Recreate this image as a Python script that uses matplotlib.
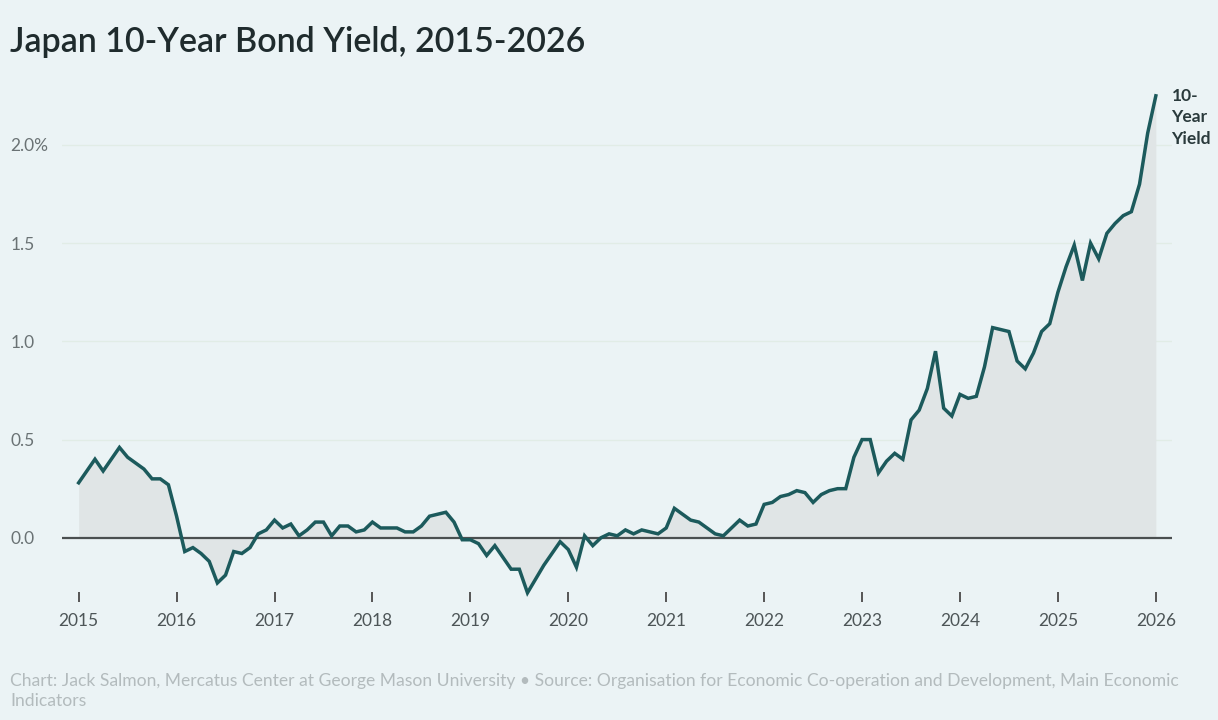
import matplotlib
matplotlib.use("Agg")
import matplotlib.pyplot as plt
import numpy as np

# Monthly Japan 10-year yield (%), Jan 2015 .. Jan 2026
y2015 = [0.28, 0.34, 0.40, 0.34, 0.40, 0.46, 0.41, 0.38, 0.35, 0.30, 0.30, 0.27]
y2016 = [0.11, -0.07, -0.05, -0.08, -0.12, -0.23, -0.19, -0.07, -0.08, -0.05, 0.02, 0.04]
y2017 = [0.09, 0.05, 0.07, 0.01, 0.04, 0.08, 0.08, 0.01, 0.06, 0.06, 0.03, 0.04]
y2018 = [0.08, 0.05, 0.05, 0.05, 0.03, 0.03, 0.06, 0.11, 0.12, 0.13, 0.08, -0.01]
y2019 = [-0.01, -0.03, -0.09, -0.04, -0.10, -0.16, -0.16, -0.28, -0.21, -0.14, -0.08, -0.02]
y2020 = [-0.06, -0.15, 0.01, -0.04, 0.00, 0.02, 0.01, 0.04, 0.02, 0.04, 0.03, 0.02]
y2021 = [0.05, 0.15, 0.12, 0.09, 0.08, 0.05, 0.02, 0.01, 0.05, 0.09, 0.06, 0.07]
y2022 = [0.17, 0.18, 0.21, 0.22, 0.24, 0.23, 0.18, 0.22, 0.24, 0.25, 0.25, 0.41]
y2023 = [0.50, 0.50, 0.33, 0.39, 0.43, 0.40, 0.60, 0.65, 0.76, 0.95, 0.66, 0.62]
y2024 = [0.73, 0.71, 0.72, 0.87, 1.07, 1.06, 1.05, 0.90, 0.86, 0.94, 1.05, 1.09]
y2025 = [1.25, 1.38, 1.49, 1.31, 1.50, 1.42, 1.55, 1.60, 1.64, 1.66, 1.80, 2.06]
y2026 = [2.25]

start_year = 2015
year_ticks = list(range(2015, 2027))
year_labels = [str(y) for y in year_ticks]
ytick_vals = [0.0, 0.5, 1.0, 1.5, 2.0]
ytick_labels = ["0.0", "0.5", "1.0", "1.5", "2.0%"]

title = "Japan 10-Year Bond Yield, 2015-2026"
series_label = "10-\nYear\nYield"
footer = ("Chart: Jack Salmon, Mercatus Center at George Mason University \u2022 Source: Organisation for "
          "Economic Co-operation and Development, Main Economic\nIndicators")

values = np.array(y2015 + y2016 + y2017 + y2018 + y2019 + y2020 + y2021 +
                  y2022 + y2023 + y2024 + y2025 + y2026)
x = start_year + np.arange(len(values)) / 12.0

BG = "#EBF3F5"
LINE = "#1C5A5C"
FILL = "#E0E5E6"

plt.rcParams['font.family'] = ['Lato', 'DejaVu Sans']

W, H = 1218, 720
fig = plt.figure(figsize=(W / 100, H / 100), dpi=100, facecolor=BG)
ax_l, ax_r = 62, 1172
ax_top, ax_bot = 86, 592
ax = fig.add_axes([ax_l / W, 1 - ax_bot / H, (ax_r - ax_l) / W, (ax_bot - ax_top) / H])
ax.set_facecolor(BG)

ax.set_xlim(2015 - 0.17, 2026 + 0.165)
ax.set_ylim(-0.276, 2.3)

for v in ytick_vals[1:]:
    ax.axhline(v, color="#E1ECE6", lw=1.0, zorder=1)

ax.fill_between(x, values, 0, color=FILL, lw=0, zorder=2)
ax.axhline(0, color="#4A4F50", lw=1.6, zorder=3)
ax.plot(x, values, color=LINE, lw=2.5, zorder=4, solid_joinstyle='miter', clip_on=False)

for s in ax.spines.values():
    s.set_visible(False)

ax.set_xticks(year_ticks)
ax.set_xticklabels(year_labels)
ax.tick_params(axis='x', length=7, width=1.4, color="#555555", pad=8,
               labelsize=12.5, labelcolor="#4d5557")
ax.set_yticks(ytick_vals)
ax.set_yticklabels(ytick_labels)
ax.tick_params(axis='y', length=0, pad=37, labelsize=12.5, labelcolor="#6a7274")
for lab in ax.get_yticklabels():
    lab.set_horizontalalignment('left')

ax.text(x[-1] + 0.16, values[-1] + 0.04, series_label, ha='left', va='top',
        fontsize=12.5, fontweight='bold', color="#2A3A3C", linespacing=1.42)

fig.text(10 / W, 1 - 52 / H, title, ha='left', va='baseline', fontsize=24.5,
         color="#1F2B2D", fontweight='semibold')

fig.text(10 / W, 1 - 691 / H, footer, ha='left', va='center', fontsize=12.6,
         color="#B3BBBD", linespacing=1.35)

fig.savefig("out.png", dpi=100, facecolor=BG)
